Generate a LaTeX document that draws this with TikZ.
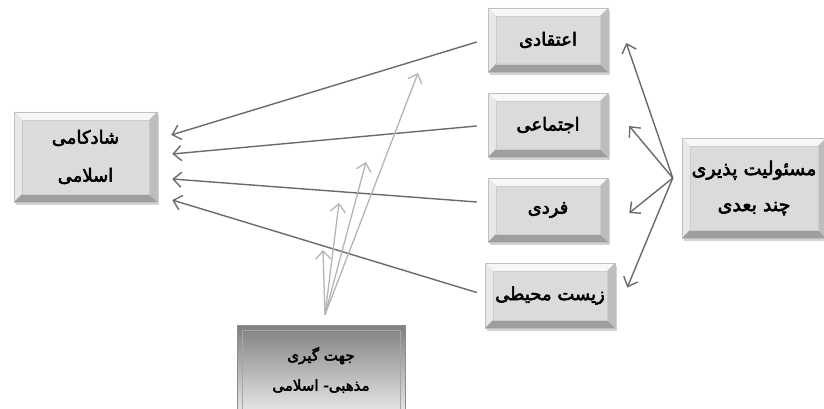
\documentclass[tikz,border=0pt]{standalone}
\usepackage{fontspec}
\usetikzlibrary{arrows.meta,shadows,calc}
\newfontfamily\arabicfont[Script=Arabic, FakeBold=3]{DejaVu Sans}
\TeXXeTstate=1
\definecolor{darkarr}{HTML}{6A6A6A}
\definecolor{lightarr}{HTML}{B4B4B4}
\definecolor{boxface}{HTML}{DBDBDB}
\tikzset{
  bevelbox/.style={draw=black!25, line width=0.5pt, fill=boxface,
    drop shadow={shadow xshift=2pt, shadow yshift=-3pt, opacity=0.35},
    path picture={
      \path (path picture bounding box.north west) coordinate (pnw)
            (path picture bounding box.north east) coordinate (pne)
            (path picture bounding box.south west) coordinate (psw)
            (path picture bounding box.south east) coordinate (pse);
      \fill[black!3] (pnw) -- (pne) -- ([shift={(-8pt,-8pt)}]pne) -- ([shift={(8pt,-8pt)}]pnw) -- cycle;
      \fill[black!9] (pnw) -- (psw) -- ([shift={(8pt,8pt)}]psw) -- ([shift={(8pt,-8pt)}]pnw) -- cycle;
      \fill[black!38] (psw) -- (pse) -- ([shift={(-8pt,8pt)}]pse) -- ([shift={(8pt,8pt)}]psw) -- cycle;
      \fill[black!26] (pne) -- (pse) -- ([shift={(-8pt,8pt)}]pse) -- ([shift={(-8pt,-8pt)}]pne) -- cycle;
      \draw[black!20, line width=0.5pt] ([shift={(8pt,-8pt)}]pnw) rectangle ([shift={(-8pt,8pt)}]pse);},
    align=center, inner sep=0pt, font=\arabicfont\fontsize{18}{38}\selectfont},
  darkbox/.style={draw=black!45, line width=0.6pt, top color=black!50, bottom color=blue!6!black!8,
    path picture={\draw[black!35, line width=0.6pt] ([shift={(5pt,-5pt)}]path picture bounding box.north west) rectangle ([shift={(-5pt,5pt)}]path picture bounding box.south east);},
    align=center, inner sep=0pt, font=\arabicfont\fontsize{15}{30}\selectfont},
  darr/.style={draw=darkarr, line width=1.4pt, -{Straight Barb[length=8pt,width=15pt]}},
  larr/.style={draw=lightarr, line width=1.3pt, -{Straight Barb[length=8pt,width=15pt]}},
}
\begin{document}
\begin{tikzpicture}[x=1pt,y=-1pt]
\useasboundingbox (0,0) rectangle (824,409);
\begin{scope}
\clip (0,0) rectangle (824,409);
\node[bevelbox, minimum width=143pt, minimum height=90pt] (L) at (85.5,157) {\beginR شادکامی\endR\\\beginR اسلامی\endR};
\node[bevelbox, minimum width=120pt, minimum height=64pt] (E) at (548,40) {\beginR اعتقادی\endR};
\node[bevelbox, minimum width=120pt, minimum height=64pt] (S) at (548,125) {\beginR اجتماعی\endR};
\node[bevelbox, minimum width=120pt, minimum height=64pt] (F) at (548,210) {\beginR فردی\endR};
\node[bevelbox, minimum width=130pt, minimum height=65pt] (Z) at (550,295.5) {\beginR زیست محیطی\endR};
\node[bevelbox, minimum width=144pt, minimum height=100pt, font=\arabicfont\fontsize{19}{36}\selectfont] (R) at (754,188) {\beginR مسئولیت پذیری\endR\\\beginR چند بعدی\endR};
\node[darkbox, minimum width=168pt, minimum height=90pt] (B) at (321,370) {\beginR جهت گیری\endR\\\beginR مذهبی- اسلامی\endR};
\end{scope}
% arrows from the four dimensions to the left box
\draw[darr] ($(E.west)+(-11,2)$) -- ($(L.east)+(14,-22)$);
\draw[darr] ($(S.west)+(-11,1)$) -- ($(L.east)+(15,-3)$);
\draw[darr] ($(F.west)+(-11,-8)$) -- ($(L.east)+(15,22)$);
\draw[darr] ($(Z.west)+(-8,-3)$) -- ($(L.east)+(15,43)$);
% arrows from the right box
\coordinate (rsrc) at ($(R.west)+(-9,-10)$);
\draw[darr] (rsrc) -- ($(E.east)+(18,3)$);
\draw[darr] (rsrc) -- ($(S.east)+(21,1)$);
\draw[darr] (rsrc) -- ($(F.east)+(21,3)$);
\draw[darr] (rsrc) -- ($(Z.east)+(12,-8)$);
% light arrows from the bottom box
\coordinate (bsrc) at ($(B.north)+(4,-10)$);
\coordinate (g1) at (418,73);
\coordinate (g2) at (366,162);
\coordinate (g3) at (339,203);
\coordinate (g4) at (323,250);
\draw[larr] (bsrc) -- (g1);
\draw[larr] (bsrc) -- (g2);
\draw[larr] (bsrc) -- (g3);
\draw[larr] (bsrc) -- (g4);
\end{tikzpicture}
\end{document}
